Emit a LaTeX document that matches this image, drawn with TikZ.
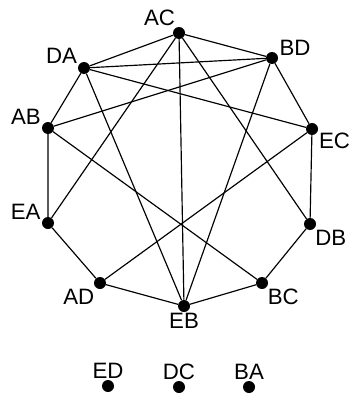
\documentclass[tikz,border=0pt]{standalone}
\usepackage{fontspec}
\setmainfont{Liberation Sans}
\usepackage{tikz}
\usetikzlibrary{calc}

\tikzset{
  vtx/.style = {circle, fill = black, inner sep = 0pt, minimum size = 0.36cm},
  lbl/.style = {font = \fontsize{19}{22}\selectfont, inner sep = 1pt, label distance = 0pt},
  edge/.style = {draw, line width = 1pt}
}

\begin{document}
\begin{tikzpicture}[x = 0.03cm, y = -0.03cm]
            \useasboundingbox (0,0) rectangle (350,394);
            % vertices
            \node[vtx, label = {[lbl]115:AC}](AC)at(179,33){};
            \node[vtx, label = {[lbl]10:BD}](BD)at(272,58){};
            \node[vtx, label = {[lbl]-25:EC}](EC)at(312,129){};
            \node[vtx, label = {[lbl]-50:DB}](DB)at(310,224){};
            \node[vtx, label = {[lbl]-45:BC}](BC)at(262,283){};
            \node[vtx, label = {[lbl]below:EB}](EB)at(184,306){};
            \node[vtx, label = {[lbl]-135:AD}](AD)at(100,283){};
            \node[vtx, label = {[lbl]165:EA}](EA)at(48,223){};
            \node[vtx, label = {[lbl]160:AB}](AB)at(48,128){};
            \node[vtx, label = {[lbl]155:DA}](DA)at(84,68){};
            % isolated
            \node[vtx, label = {[lbl]above:ED}](ED)at(108,386){};
            \node[vtx, label = {[lbl]above:DC}](DC)at(179,387){};
            \node[vtx, label = {[lbl]above:BA}](BA)at(249,387){};
            % outer cycle
            \path[edge](AC)--(BD)--(EC)--(DB)--(BC)--(EB)--(AD)--(EA)--(AB)--(DA)--(AC);
            % chords
            \path[edge](AC)--(EA);
            \path[edge](AC)--(EB);
            \path[edge](AC)--(DB);
            \path[edge](DA)--(BD);
            \path[edge](DA)--(EC);
            \path[edge](DA)--(EB);
            \path[edge](BD)--(AB);
            \path[edge](BD)--(EB);
            \path[edge](EC)--(AD);
            \path[edge](AB)--(BC);
        \end{tikzpicture}
\end{document}
